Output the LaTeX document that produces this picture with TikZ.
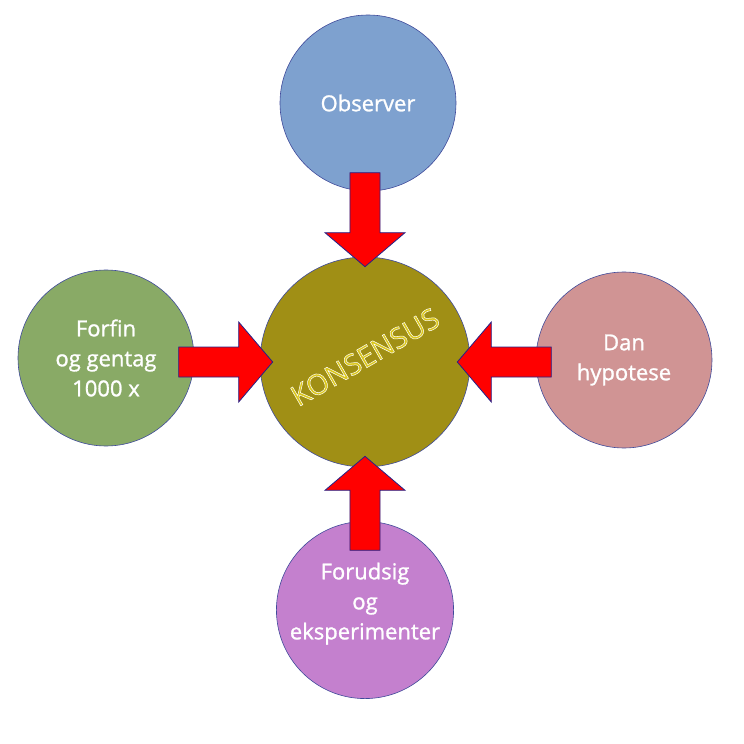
\documentclass[tikz,border=0pt]{standalone}
\usepackage{fontspec}
\setmainfont{Open Sans}
\newfontfamily\lblfont{Open Sans}[FakeBold=1.2]
\usetikzlibrary{positioning}
\definecolor{rimcol}{HTML}{3F4A9A}
\definecolor{arrowrim}{HTML}{22228A}
\definecolor{obsfill}{HTML}{7EA1CF}
\definecolor{konfill}{HTML}{A08F15}
\definecolor{konyellow}{HTML}{DCC81A}
\definecolor{forfinfill}{HTML}{89AA66}
\definecolor{danfill}{HTML}{D09494}
\definecolor{forudfill}{HTML}{C480CE}
% white rim round the middle word
\newcommand{\rimtext}[1]{\special{pdf:literal direct 1 1 1 RG 0.5 w 2 Tr}#1\special{pdf:literal direct 0 Tr}}
\tikzset{
    bubble/.style = {draw=rimcol, circle, line width=0.6pt,
        minimum size=176pt, inner sep=0pt, align=center,
        text=white, font=\lblfont\fontsize{22}{30}\selectfont},
    bigarrow/.pic = {
        \filldraw[fill=red, draw=arrowrim, line width=0.8pt, line join=miter]
            (-94,-15) -- (-34,-15) -- (-34,-40) -- (0,0) -- (-34,40)
            -- (-34,15) -- (-94,15) -- cycle;
    }
}

\begin{document}
\begin{tikzpicture}[x=1pt, y=1pt]
    \useasboundingbox (-365,-382) rectangle (379,362);
    % middle
    \node [bubble, fill=konfill, minimum size=210pt] (kon) {};
    \node [rotate=30, text=konyellow, font=\fontsize{28.5}{34}\selectfont] (kontxt) at ([yshift=5pt]kon.center) {\rimtext{KONSENSUS}};
    % the four around it
    \node [bubble, fill=obsfill, above of=kon, node distance=259pt, xshift=3pt] (obs) {Observer};
    \node [bubble, fill=forfinfill, left of=kon, node distance=259pt, yshift=4pt] (forfin) {Forfin\\og gentag\\1000 x};
    \node [bubble, fill=danfill, right of=kon, node distance=259pt, yshift=2pt] (dan) {Dan\\hypotese};
    \node [bubble, fill=forudfill, below of=kon, node distance=248pt, text depth=18pt] (forud) {Forudsig\\og\\eksperimenter};
    % arrows into the middle
    \pic [rotate=-90] at ([yshift=-10pt]kon.north) {bigarrow};
    \pic at ([xshift=13pt]kon.west) {bigarrow};
    \pic [rotate=180] at ([xshift=-13pt]kon.east) {bigarrow};
    \pic [rotate=90] at ([yshift=11pt]kon.south) {bigarrow};
\end{tikzpicture}
\end{document}
